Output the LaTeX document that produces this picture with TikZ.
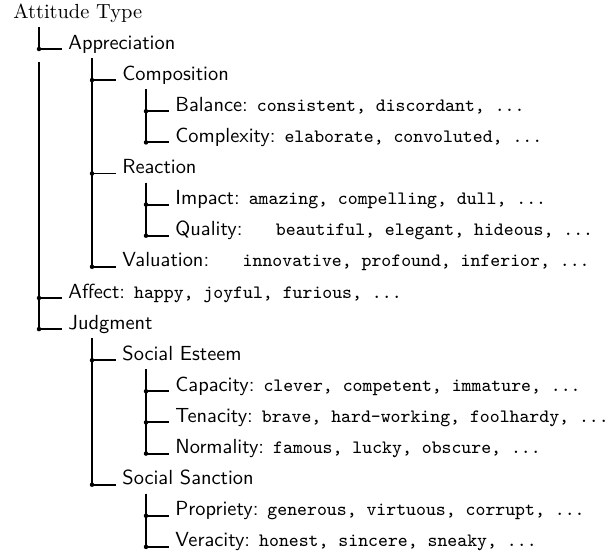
\documentclass[tikz,border=0pt]{standalone}
\newcommand\exwords[1]{{\fontsize{9.25}{11}\selectfont\ttfamily #1}}
\newcommand\treeedge[3]{\draw[conn] ([shift={#1}]#2.base west) |- node[cdot]{} ([shift={(-6,0)}]#3.base west);}
\begin{document}
\begin{tikzpicture}[x=0.49pt,y=-0.49pt,
  lbl/.style={anchor=base west,inner sep=0pt,font=\sffamily},
  conn/.style={line width=0.95pt},
  cdot/.style={circle,fill,inner sep=0pt,minimum size=2.2pt,pos=0.5}]
\useasboundingbox (0,0) rectangle (614,554);
\node[anchor=base west,inner sep=0pt] (root) at (13,18) {Attitude Type};
\node[lbl] (appr) at (68,49) {Appreciation};
\node[lbl] (comp) at (122,80.1) {Composition};
\node[lbl] (bal) at (175,111.2) {Balance: \exwords{consistent, discordant, ...}};
\node[lbl] (cplx) at (175,142.4) {Complexity: \exwords{elaborate, convoluted, ...}};
\node[lbl] (reac) at (122,173.5) {Reaction};
\node[lbl] (imp) at (175,204.6) {Impact: \exwords{amazing, compelling, dull, ...}};
\node[lbl] (qual) at (175,235.7) {Quality:\hspace{12pt} \exwords{beautiful, elegant, hideous, ...}};
\node[lbl] (val) at (122,266.8) {Valuation:\hspace{12pt} \exwords{innovative, profound, inferior, ...}};
\node[lbl] (aff) at (68,298) {Affect: \exwords{happy, joyful, furious, ...}};
\node[lbl] (judg) at (68,329.1) {Judgment};
\node[lbl] (sest) at (122,360.2) {Social Esteem};
\node[lbl] (cap) at (175,391.3) {Capacity: \exwords{clever, competent, immature, ...}};
\node[lbl] (ten) at (175,422.4) {Tenacity: \exwords{brave, hard-working, foolhardy, ...}};
\node[lbl] (norm) at (175,453.6) {Normality: \exwords{famous, lucky, obscure, ...}};
\node[lbl] (ssan) at (122,484.7) {Social Sanction};
\node[lbl] (prop) at (175,515.8) {Propriety: \exwords{generous, virtuous, corrupt, ...}};
\node[lbl] (ver) at (175,546.9) {Veracity: \exwords{honest, sincere, sneaky, ...}};
% connectors
\treeedge{(26,9)}{root}{appr}
\treeedge{(-29,13)}{appr}{aff}
\treeedge{(-29,13)}{appr}{judg}
\treeedge{(24,9)}{appr}{comp}
\treeedge{(24,9)}{appr}{reac}
\treeedge{(24,9)}{appr}{val}
\treeedge{(24,9)}{comp}{bal}
\treeedge{(24,9)}{comp}{cplx}
\treeedge{(24,9)}{reac}{imp}
\treeedge{(24,9)}{reac}{qual}
\treeedge{(24,9)}{judg}{sest}
\treeedge{(24,9)}{judg}{ssan}
\treeedge{(24,9)}{sest}{cap}
\treeedge{(24,9)}{sest}{ten}
\treeedge{(24,9)}{sest}{norm}
\treeedge{(24,9)}{ssan}{prop}
\treeedge{(24,9)}{ssan}{ver}
\end{tikzpicture}
\end{document}
